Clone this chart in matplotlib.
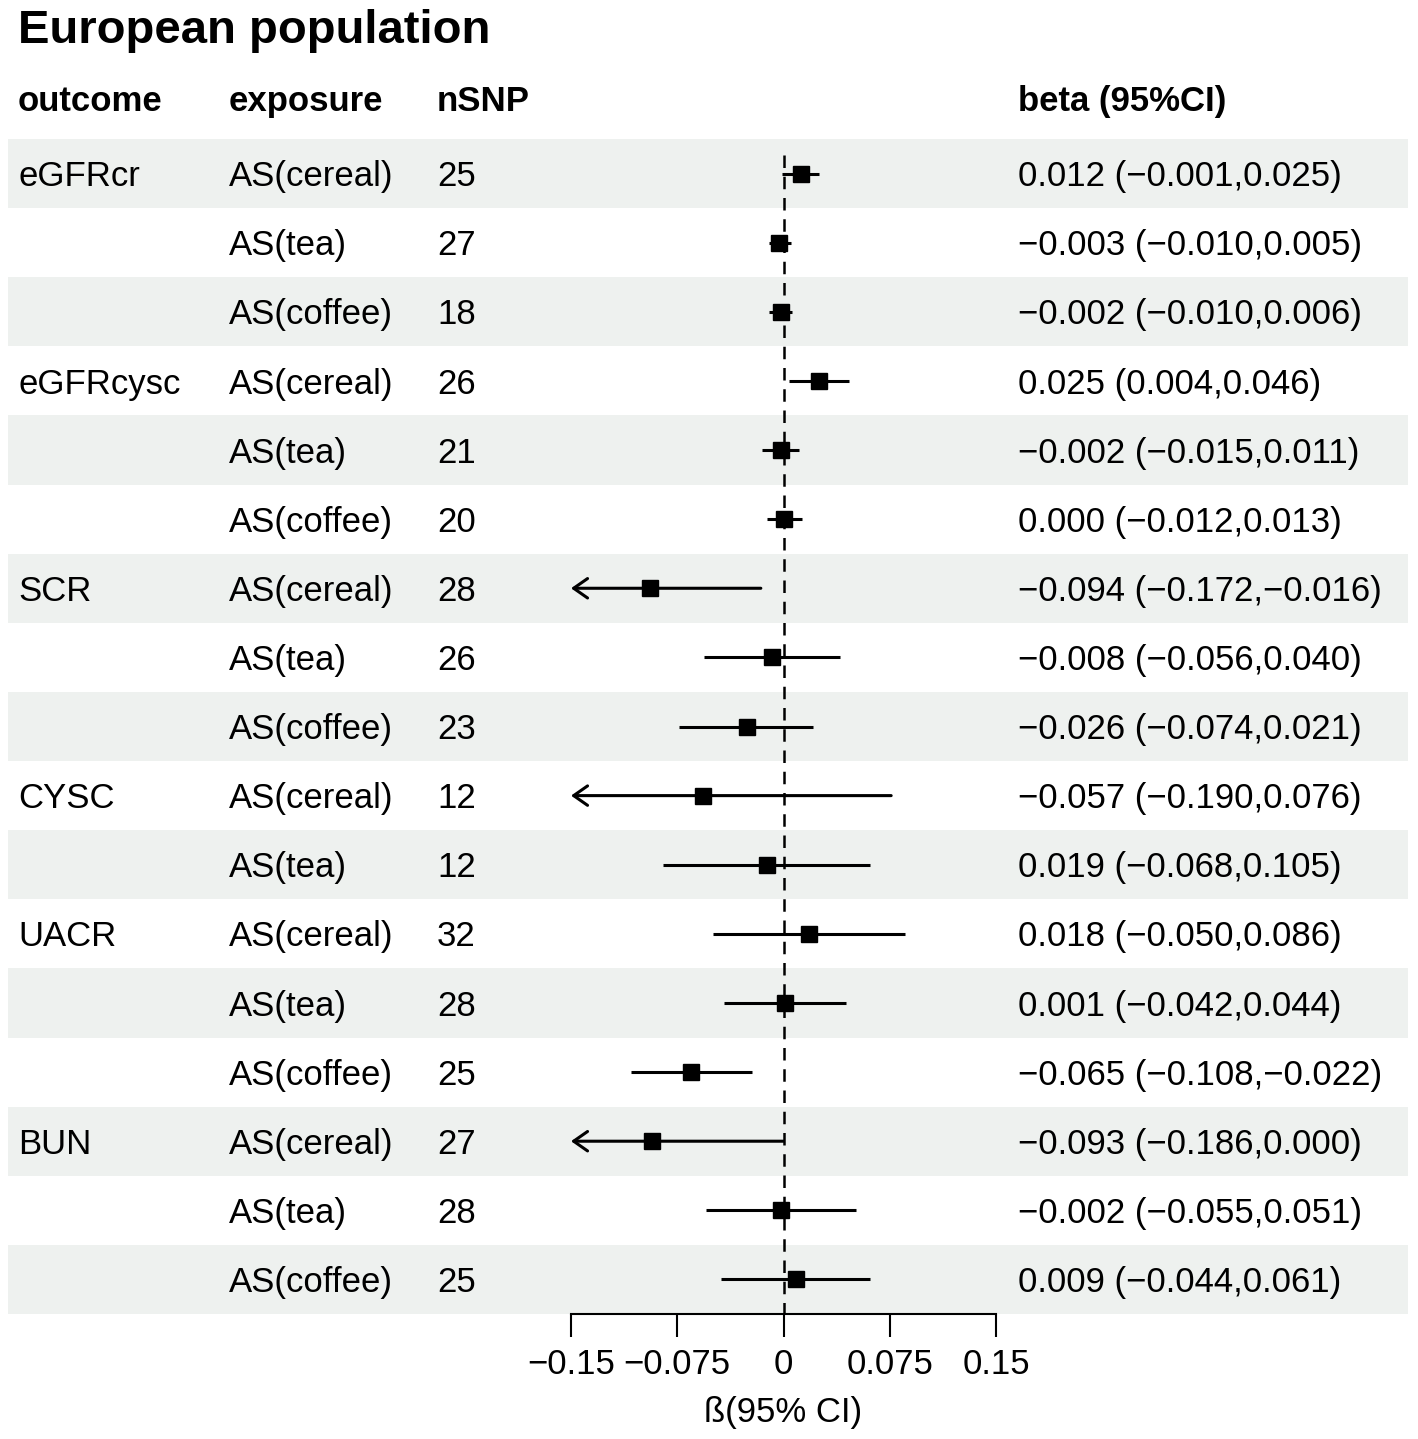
import matplotlib
matplotlib.use("Agg")
import matplotlib.pyplot as plt
from matplotlib.patches import Rectangle
from matplotlib.transforms import blended_transform_factory

plt.rcParams['font.family'] = ['Liberation Sans', 'DejaVu Sans']

outcomes = ["eGFRcr", "", "", "eGFRcysc", "", "", "SCR", "", "", "CYSC", "",
            "UACR", "", "", "BUN", "", ""]
exposures = ["AS(cereal)", "AS(tea)", "AS(coffee)",
             "AS(cereal)", "AS(tea)", "AS(coffee)",
             "AS(cereal)", "AS(tea)", "AS(coffee)",
             "AS(cereal)", "AS(tea)",
             "AS(cereal)", "AS(tea)", "AS(coffee)",
             "AS(cereal)", "AS(tea)", "AS(coffee)"]
nsnp = [25, 27, 18, 26, 21, 20, 28, 26, 23, 12, 12, 32, 28, 25, 27, 28, 25]
beta = [0.012, -0.003, -0.002, 0.025, -0.002, 0.000, -0.094, -0.008, -0.026,
        -0.057, -0.012, 0.018, 0.001, -0.065, -0.093, -0.002, 0.009]
lower = [-0.001, -0.010, -0.010, 0.004, -0.015, -0.012, -0.172, -0.056, -0.074,
         -0.190, -0.085, -0.050, -0.042, -0.108, -0.186, -0.055, -0.044]
upper = [0.025, 0.005, 0.006, 0.046, 0.011, 0.013, -0.016, 0.040, 0.021,
         0.076, 0.061, 0.086, 0.044, -0.022, 0.000, 0.051, 0.061]
beta_labels = ["0.012 (\u22120.001,0.025)", "\u22120.003 (\u22120.010,0.005)",
               "\u22120.002 (\u22120.010,0.006)", "0.025 (0.004,0.046)",
               "\u22120.002 (\u22120.015,0.011)", "0.000 (\u22120.012,0.013)",
               "\u22120.094 (\u22120.172,\u22120.016)", "\u22120.008 (\u22120.056,0.040)",
               "\u22120.026 (\u22120.074,0.021)", "\u22120.057 (\u22120.190,0.076)",
               "0.019 (\u22120.068,0.105)", "0.018 (\u22120.050,0.086)",
               "0.001 (\u22120.042,0.044)", "\u22120.065 (\u22120.108,\u22120.022)",
               "\u22120.093 (\u22120.186,0.000)", "\u22120.002 (\u22120.055,0.051)",
               "0.009 (\u22120.044,0.061)"]
headers = ["outcome", "exposure", "nSNP", "beta (95%CI)"]
xticks = [-0.15, -0.075, 0, 0.075, 0.15]
xtick_labels = ["\u22120.15", "\u22120.075", "0", "0.075", "0.15"]
title = "European population"
xlabel = "\u00df(95% CI)"

W, H = 1418, 1439
fig = plt.figure(figsize=(W / 100, H / 100), dpi=100)
fig.patch.set_facecolor('white')

# axes geometry (pixels)
ax_l, ax_r = 571, 996
ax_top, ax_bot = 139, 1314
ax = fig.add_axes([ax_l / W, 1 - ax_bot / H, (ax_r - ax_l) / W, (ax_bot - ax_top) / H])
ax.set_facecolor('none')
n = len(beta)
xmin, xmax = -0.15, 0.15
ax.set_xlim(xmin, xmax)
ax.set_ylim(n + 0.5, 0.5)

tr = blended_transform_factory(fig.transFigure, ax.transData)

# stripes
for i in range(n):
    y = i + 1
    if i % 2 == 0:
        ax.add_patch(Rectangle((8 / W, y - 0.5), 1400 / W, 1.0, transform=tr,
                               facecolor='#EEF1EF', edgecolor='none',
                               clip_on=False, zorder=0))

# reference line
ax.vlines(0, 0.73, n + 0.5, colors='black', linestyles=(0, (5, 3.5)), lw=1.8, zorder=1)

col_x = [18 / W, 229 / W, 437 / W, 1018 / W]
fs = 25
dy = 0.045
for i in range(n):
    y = i + 1
    lo, hi, b = lower[i], upper[i], beta[i]
    if lo < xmin:
        ax.annotate('', xy=(xmin, y), xytext=(hi, y),
                    arrowprops=dict(arrowstyle='->,head_length=0.5,head_width=0.35',
                                    lw=2.2, color='black', shrinkA=0, shrinkB=0,
                                    mutation_scale=20),
                    zorder=2)
    else:
        ax.plot([lo, hi], [y, y], color='black', lw=2.2, solid_capstyle='butt', zorder=2)
    ax.plot([b], [y], marker='s', markersize=11, color='black', zorder=3)
    ty = y + dy
    ax.text(col_x[0], ty, outcomes[i], transform=tr, fontsize=fs, va='center', ha='left')
    ax.text(col_x[1], ty, exposures[i], transform=tr, fontsize=fs, va='center', ha='left')
    ax.text(col_x[2], ty, str(nsnp[i]), transform=tr, fontsize=fs, va='center', ha='left')
    ax.text(col_x[3], ty, beta_labels[i], transform=tr, fontsize=fs, va='center', ha='left')

hy = (98 - ax_top) / 69.1 + 0.5 + dy
for hx, h in zip(col_x, headers):
    ax.text(hx, hy, h, transform=tr, fontsize=fs, fontweight='bold', va='center', ha='left')

fig.text(18 / W, 1 - 31 / H, title, fontsize=34, fontweight='bold', va='center', ha='left')

for s in ['left', 'right', 'top']:
    ax.spines[s].set_visible(False)
ax.spines['bottom'].set_linewidth(1.5)
ax.set_yticks([])
ax.set_xticks(xticks)
ax.set_xticklabels(xtick_labels, fontsize=fs)
ax.tick_params(axis='x', length=16.5, width=1.5, direction='out', pad=8)
ax.set_xlabel(xlabel, fontsize=fs, labelpad=11)

fig.savefig('out.png', dpi=100)
